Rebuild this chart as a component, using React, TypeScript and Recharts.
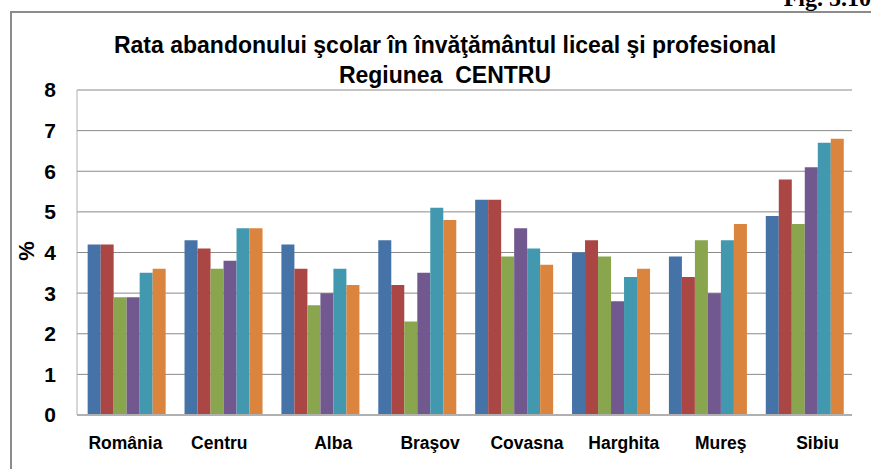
import * as React from "react"
import { BarChart, Bar, XAxis, YAxis, CartesianGrid } from "recharts"

const regions = ["România", "Centru", "Alba", "Braşov", "Covasna", "Harghita", "Mureş", "Sibiu"]

const s1 = [4.2, 4.3, 4.2, 4.3, 5.3, 4.0, 3.9, 4.9]
const s2 = [4.2, 4.1, 3.6, 3.2, 5.3, 4.3, 3.4, 5.8]
const s3 = [2.9, 3.6, 2.7, 2.3, 3.9, 3.9, 4.3, 4.7]
const s4 = [2.9, 3.8, 3.0, 3.5, 4.6, 2.8, 3.0, 6.1]
const s5 = [3.5, 4.6, 3.6, 5.1, 4.1, 3.4, 4.3, 6.7]
const s6 = [3.6, 4.6, 3.2, 4.8, 3.7, 3.6, 4.7, 6.8]

const yTicks = [0, 1, 2, 3, 4, 5, 6, 7, 8]

const series = [s1, s2, s3, s4, s5, s6]
const colors = ["#4572a7", "#aa4643", "#89a54e", "#71588f", "#4198af", "#db843d"]

const data = regions.map((name, i) => {
  const row: any = { name }
  series.forEach((s, k) => { row["s" + k] = s[i] })
  return row
})

const sans = "'Liberation Sans', Arial, sans-serif"

// labels after the second one sit a little right of the group centre in the original
function RegionTick(props: any) {
  const { x, y, payload, index } = props
  const dx = index >= 2 ? 14 : index === 1 ? -3 : 0
  return (
    <text x={x + dx} y={y} dy={16} textAnchor="middle" fill="#000" fontFamily={sans} fontWeight="bold" fontSize={17.5}>
      {payload.value}
    </text>
  )
}

export default function App() {
  return (
    <div style={{ position: "absolute", left: 0, top: 0, width: 871, height: 469, overflow: "hidden", background: "#fff" }}>
      <div style={{ position: "absolute", left: 10, top: 11, width: 900, height: 500, border: "2px solid #8c8c8c", boxSizing: "border-box" }} />
      <div style={{ position: "absolute", right: 0, top: -14, fontFamily: "'Liberation Serif', 'DejaVu Serif', serif", fontWeight: "bold", fontSize: 24, lineHeight: "24px" }}>
        Fig. 5.10
      </div>
      <div style={{ position: "absolute", left: 0, width: 890, top: 30, textAlign: "center", fontFamily: sans, fontWeight: "bold", fontSize: 23, lineHeight: "30px", color: "#000" }}>
        <div>Rata abandonului şcolar în învăţământul liceal şi profesional</div>
        <div>Regiunea&nbsp; CENTRU</div>
      </div>
      <div style={{ position: "absolute", left: 17, top: 238, transform: "rotate(-90deg)", fontFamily: sans, fontWeight: "bold", fontSize: 22 }}>%</div>
      <BarChart
        width={871}
        height={469}
        data={data}
        margin={{ top: 90, right: 19, bottom: 24, left: 27 }}
        barGap={0}
        barCategoryGap="11%"
        style={{ position: "absolute", left: 0, top: 0 }}
      >
        <CartesianGrid vertical={false} stroke="#8a8a8a" />
        <XAxis
          dataKey="name"
          tickLine={false}
          axisLine={{ stroke: "#b0b0b0", strokeWidth: 2 }}
          tick={<RegionTick />}
          tickMargin={12}
          height={30}
          interval={0}
        />
        <YAxis
          domain={[0, 8]}
          ticks={yTicks}
          width={50}
          tickLine={false}
          axisLine={{ stroke: "#b0b0b0", strokeWidth: 1 }}
          tick={{ fill: "#000", fontFamily: sans, fontWeight: "bold", fontSize: 21 }}
          tickMargin={15}
        />
        {colors.map((c, k) => (
          <Bar key={k} dataKey={"s" + k} fill={c} isAnimationActive={false} />
        ))}
      </BarChart>
    </div>
  )
}
